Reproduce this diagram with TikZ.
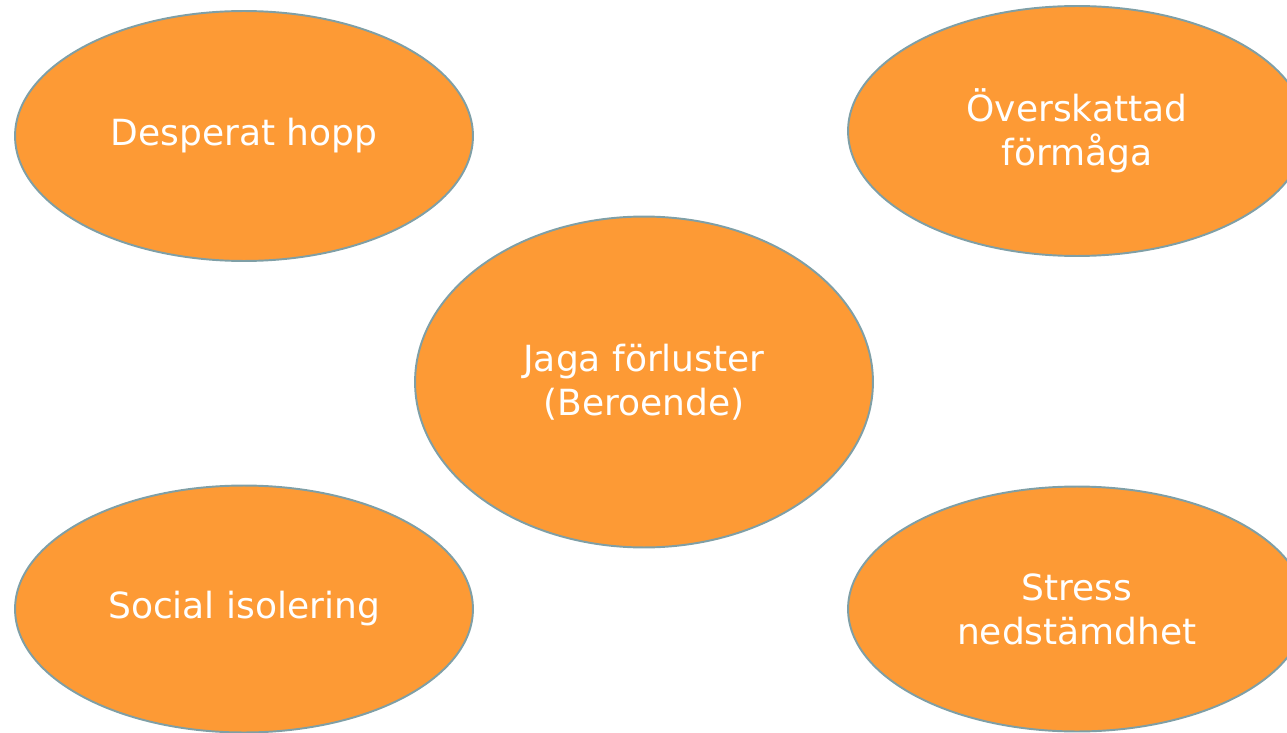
\documentclass[tikz,border=0pt]{standalone}
\usepackage{fontspec}
\setmainfont{DejaVu Sans}
\usetikzlibrary{shapes.geometric}
\definecolor{blobfill}{HTML}{FD9A35}
\definecolor{blobline}{HTML}{7F9FA6}

\begin{document}
\begin{tikzpicture}[x=0.02cm,y=-0.02cm,
    every node/.style={font=\fontsize{20.5}{25}\selectfont,text=white,align=center},
    blob/.style={ellipse,draw=blobline,fill=blobfill,line width=1.1pt,
      inner sep=0pt,minimum width=9.16cm,minimum height=5cm}]
  \clip (0,0) rectangle (1287,733);
  \node[blob] (hopp) at (244,136) {Desperat hopp};
  \node[blob] (formaga) at (1077,131) {Överskattad\\förmåga};
  \node[blob,minimum height=6.62cm] (jaga) at (644,382) {Jaga förluster\\(Beroende)};
  \node[blob,minimum height=4.94cm] (isolering) at (244,609) {Social isolering};
  \node[blob,minimum height=4.9cm] (stress) at (1077,609) {Stress\\nedstämdhet};
\end{tikzpicture}
\end{document}
